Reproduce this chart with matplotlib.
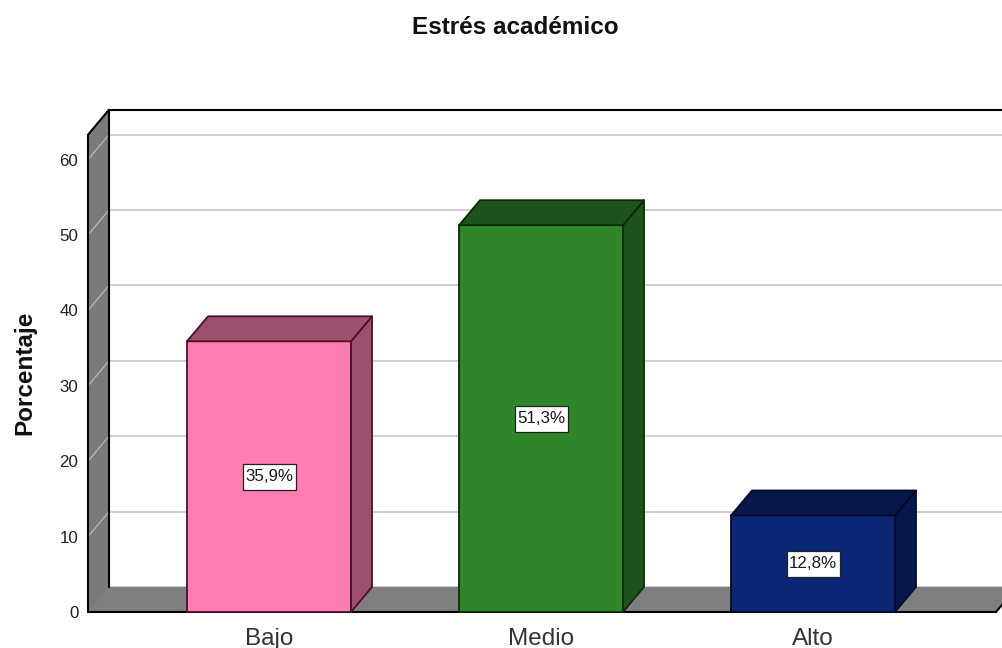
import matplotlib
matplotlib.use("Agg")
import matplotlib.pyplot as plt
from matplotlib.patches import Polygon, Rectangle

plt.rcParams["font.family"] = ["Liberation Sans", "DejaVu Sans"]

categories = ["Bajo", "Medio", "Alto"]
values = [35.9, 51.3, 12.8]
value_labels = ["35,9%", "51,3%", "12,8%"]
y_ticks = [0, 10, 20, 30, 40, 50, 60]
front_colors = ["#FF7DB1", "#2E862B", "#0B2675"]
side_colors = ["#9E4F70", "#1D541B", "#06174A"]
edge_colors = ["#4A1029", "#0C2A0A", "#020A28"]

W, H = 1003, 648
BAR_W = 164 / 272
DX = 21 / 272
DY = 25 / 7.54
FRONT_TOP = 63.3  # altura de la pared en el plano frontal
BOX_W = 53 / 272
BOX_H = 26 / 7.54


def poly(ax, pts, face, edge="none", lw=1.3, z=2):
    ax.add_patch(Polygon(pts, closed=True, facecolor=face, edgecolor=edge,
                         linewidth=lw, joinstyle="round", clip_on=False, zorder=z))


def draw_bar(ax, x, val, front, side, edge):
    l, r = x - BAR_W / 2, x + BAR_W / 2
    poly(ax, [(l, 0), (r, 0), (r, val), (l, val)], front, edge, z=5)
    poly(ax, [(r, 0), (r + DX, DY), (r + DX, val + DY), (r, val)], side, edge, z=5)
    poly(ax, [(l, val), (r, val), (r + DX, val + DY), (l + DX, val + DY)], side, edge, z=5)


fig = plt.figure(figsize=(W / 100, H / 100), dpi=100)
ax = fig.add_axes([88 / W, 1 - 612 / H, (W - 88) / W, 502 / H])
ax.set_xlim(-181 / 272, 2 + 190 / 272)
ax.set_ylim(0, 502 / 75.4 * 10)
for s in ax.spines.values():
    s.set_visible(False)

x0, x1 = ax.get_xlim()
right_end = x0 + 908 / 272
top = FRONT_TOP + DY

# paredes y suelo
poly(ax, [(x0, 0), (x0 + DX, DY), (x0 + DX, top), (x0, FRONT_TOP)], "#7A7A7A", "#7A7A7A", 0.5, 1)
poly(ax, [(x0, 0), (right_end, 0), (right_end + DX, DY), (x0 + DX, DY)], "#7F7F7F", "#7A7A7A", 0.5, 1)

# lineas de la cuadricula
for t in y_ticks[1:]:
    ax.plot([x0 + DX, x1], [t + DY, t + DY], color="#CCCCCC", lw=1.3, zorder=1)
    ax.plot([x0, x0 + DX], [t, t + DY], color="#B8B8B8", lw=0.9, zorder=2)

# bordes negros
border = dict(color="black", lw=1.5, zorder=3, clip_on=False, solid_capstyle="round")
ax.plot([x0 + DX, x1], [top, top], **border)
ax.plot([x0 + DX, x0 + DX], [DY, top], **border)
ax.plot([x0, x0], [0, FRONT_TOP], **border)
ax.plot([x0, x0 + DX], [FRONT_TOP, top], **border)
ax.plot([x0, right_end], [0, 0], **border)
ax.plot([right_end, right_end + DX], [0, DY], **border)

for i, cat in enumerate(categories):
    draw_bar(ax, i, values[i], front_colors[i], side_colors[i], edge_colors[i])
    ax.add_patch(Rectangle((i - BOX_W / 2, values[i] / 2 - BOX_H / 2), BOX_W, BOX_H,
                           facecolor="white", edgecolor="#222222", linewidth=0.9, zorder=6))
    ax.text(i, values[i] / 2, value_labels[i], ha="center", va="center", fontsize=12.2,
            color="#1A1A1A", zorder=7)

ax.set_xticks(range(len(categories)))
ax.set_xticklabels(categories, fontsize=17.5, color="#333333")
ax.set_yticks(y_ticks)
ax.set_yticklabels([str(t) for t in y_ticks], fontsize=12.2, color="#222222")
ax.tick_params(axis="both", length=0)
ax.tick_params(axis="y", pad=7)
ax.tick_params(axis="x", pad=11.5)

fig.text(515 / W, 1 - 28 / H, "Estrés académico", ha="center", va="center",
         fontsize=17.5, fontweight="bold", color="#111111")
fig.text(25 / W, 1 - 373 / H, "Porcentaje", ha="center", va="center", rotation=90,
         fontsize=17.5, fontweight="bold", color="#111111")

fig.savefig("out.png", dpi=100, facecolor="white")
